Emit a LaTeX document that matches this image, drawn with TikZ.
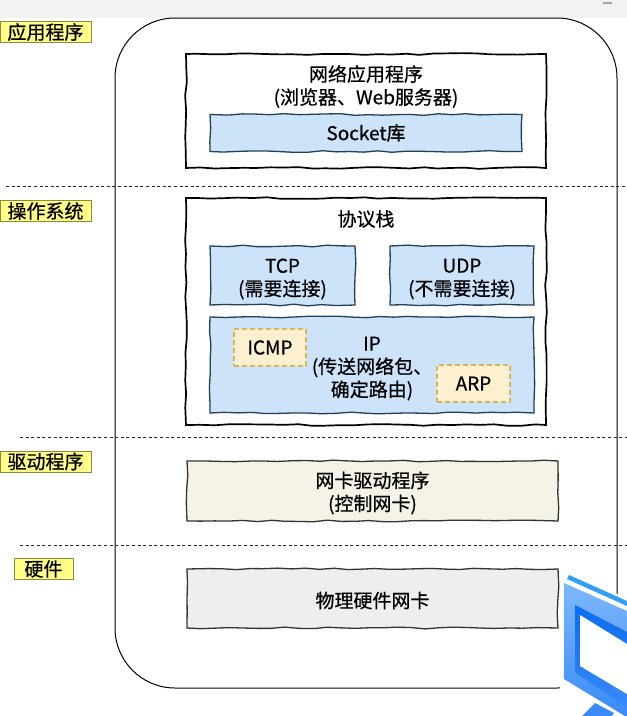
\documentclass[tikz,border=0pt]{standalone}
\usepackage{fontspec}
\setmainfont{Noto Sans CJK SC}[FakeBold=0.6]
\usetikzlibrary{decorations.pathmorphing}
\definecolor{netBlue}{HTML}{CCE3FA}
\definecolor{netSlate}{HTML}{23405A}
\definecolor{netCream}{HTML}{FDF0CF}
\definecolor{netGold}{HTML}{D6B656}
\definecolor{netIvory}{HTML}{F5F2E6}
\definecolor{netGray}{HTML}{EEEEEE}
\definecolor{netYellow}{HTML}{FFFF88}
\definecolor{netOlive}{HTML}{8A8A3C}
\definecolor{netBar}{HTML}{F2F2F2}
\definecolor{netSky}{HTML}{2FA0F5}
\definecolor{netDeep}{HTML}{0A6CF0}
\definecolor{netLight}{HTML}{7DB8FA}
\definecolor{netMid}{HTML}{3A8AF8}
\tikzset{
  net wobble/.style={decorate, decoration={random steps, segment length=14pt, amplitude=0.9pt}},
  net text/.style={font=\fontsize{19}{23}\selectfont, align=center, text=black, inner sep=0pt},
  net frame/.style={net text, draw=black, line width=1.7pt, fill=white, net wobble},
  net proto/.style={net text, draw=netSlate, line width=1.3pt, fill=netBlue, net wobble},
  net helper/.style={net text, draw=netGold, fill=netCream, line width=1.5pt, dash pattern=on 5pt off 3pt},
  net device/.style={net text, draw=black!80, line width=1.3pt, net wobble, minimum width=371pt},
  net layer/.style={font=\fontsize{19}{20}\selectfont, draw=netOlive, fill=netYellow, line width=0.8pt, inner sep=0pt, minimum height=21pt},
  net split/.style={draw=black!85, line width=1pt, dash pattern=on 3pt off 2.6pt},
}
\begin{document}
\begin{tikzpicture}[x=1pt, y=-1pt]
  \useasboundingbox (0,0) rectangle (627,716);
  \fill[netBar] (0,0) rectangle (627,18);
  \fill[gray!70] (603,2) rectangle (612,4);
  % Outer host outline
  \node[draw=black, line width=1pt, rounded corners=60pt, minimum width=502pt, minimum height=670pt, inner sep=0pt] (host) at (366,353) {};
  % Layer dividers
  \coordinate (splitA) at (6,186);
  \coordinate (splitAend) at (627,186);
  \coordinate (splitB) at (20,437);
  \coordinate (splitBend) at (627,437);
  \coordinate (splitC) at (20,545);
  \coordinate (splitCend) at (627,545);
  \draw[net split] (splitA) -- (splitAend);
  \draw[net split] (splitB) -- (splitBend);
  \draw[net split] (splitC) -- (splitCend);
  % Layer tags
  \node[net layer, minimum width=91pt] (tagApp) at (45.5,32) {应用程序};
  \node[net layer, minimum width=91pt] (tagOs) at (45.5,211) {操作系统};
  \node[net layer, minimum width=91pt] (tagDriver) at (45.5,461.5) {驱动程序};
  \node[net layer, minimum width=59pt] (tagHw) at (43.5,569) {硬件};
  % Application block
  \node[net frame, minimum width=360pt, minimum height=114pt] (appBox) at (366,111) {};
  \node[net text] (appText) at (366,86.5) {网络应用程序\\(浏览器、Web服务器)};
  \node[net proto, minimum width=312pt, minimum height=37pt] (socketBox) at (366,133) {Socket库};
  % Protocol stack block
  \node[net frame, minimum width=360pt, minimum height=227pt] (stackBox) at (366,311.5) {};
  \node[net text] (stackText) at (366,219) {协议栈};
  \node[net proto, minimum width=145pt, minimum height=59pt] (tcpBox) at (282.5,275.5) {};
  \node[net text] (tcpText) at (282.5,279) {TCP\\(需要连接)};
  \node[net proto, minimum width=144pt, minimum height=59pt] (udpBox) at (462,275.5) {};
  \node[net text] (udpText) at (462,279) {UDP\\(不需要连接)};
  \node[net proto, minimum width=324pt, minimum height=96pt] (ipBox) at (372,365) {};
  \node[net text] (ipText) at (372,368.5) {IP\\(传送网络包、\\确定路由)};
  \node[net helper, minimum width=72pt, minimum height=37pt] (icmpBox) at (270,347.5) {ICMP};
  \node[net helper, minimum width=73pt, minimum height=37pt] (arpBox) at (473.5,383.5) {ARP};
  % Driver and hardware
  \node[net device, fill=netIvory, minimum height=60pt] (driverBox) at (372.5,491) {};
  \node[net text] (driverText) at (372.5,493) {网卡驱动程序\\(控制网卡)};
  \node[net device, fill=netGray, minimum height=59pt] (nicBox) at (372.5,598.5) {};
  \node[net text] (nicText) at (372.5,600.5) {物理硬件网卡};
  % Monitor in the corner
  \fill[white] (560,570) -- (627,598) -- (627,716) -- (560,716) -- cycle;
  \fill[netSky] (569,575) -- (627,601) -- (627,606) -- (567,579) -- cycle;
  \shade[top color=netLight, bottom color=netMid] (564,583) -- (627,611) -- (627,716) -- (625,716) -- (564,679) -- cycle;
  \shade[top color=netDeep, bottom color=netMid] (575,605) -- (627,632) -- (627,708) -- (575,672) -- cycle;
  \fill[white] (580,615) -- (627,644) -- (627,694) -- (580,666) -- cycle;
  \fill[netMid] (582,716) -- (595,703) -- (614,713) -- (612,716) -- cycle;
\end{tikzpicture}
\end{document}
